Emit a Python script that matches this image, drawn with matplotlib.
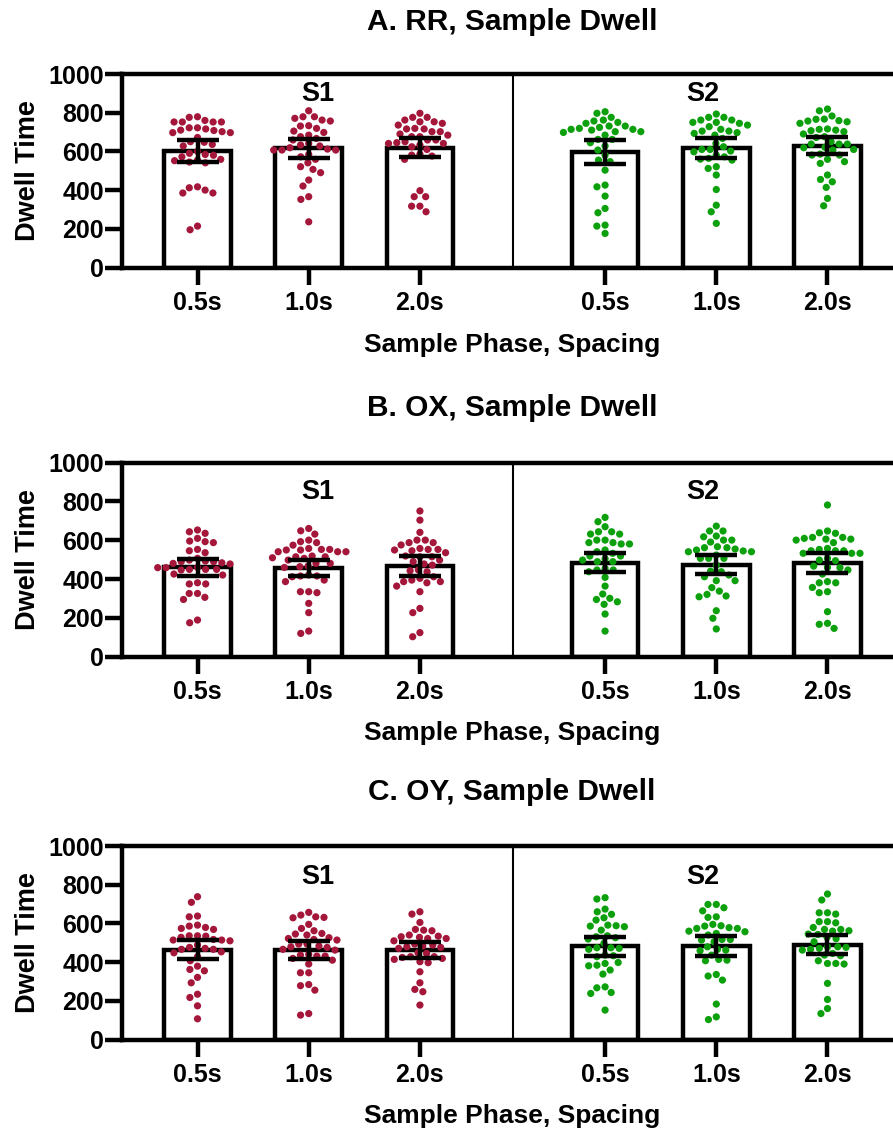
import numpy as np
import matplotlib
matplotlib.use("Agg")
import matplotlib.pyplot as plt

plt.rcParams['font.family'] = ['Liberation Sans', 'DejaVu Sans']
plt.rcParams['font.weight'] = 'bold'

# ---------------- data ----------------
panel_titles = ["A. RR, Sample Dwell", "B. OX, Sample Dwell", "C. OY, Sample Dwell"]
tick_labels = ["0.5s", "1.0s", "2.0s", "0.5s", "1.0s", "2.0s"]
group_labels = ["S1", "S2"]

A_S1_05 = [779, 776, 760, 752, 752, 752, 752, 722, 722, 716, 710, 708, 702, 697, 697, 672, 650, 647, 636, 628, 600, 590, 584, 580, 572, 559, 555, 552, 545, 541, 417, 412, 400, 385, 385, 214, 195]
A_S1_10 = [810, 779, 779, 771, 762, 757, 733, 731, 719, 705, 698, 684, 676, 667, 659, 641, 633, 628, 619, 612, 607, 607, 607, 584, 572, 559, 541, 521, 507, 490, 452, 421, 366, 352, 236]
A_S1_20 = [797, 776, 776, 762, 753, 753, 745, 736, 719, 716, 716, 702, 702, 690, 684, 676, 676, 659, 659, 650, 645, 641, 641, 633, 624, 610, 586, 581, 576, 559, 397, 366, 366, 317, 317, 288]
A_S2_05 = [805, 797, 776, 762, 757, 750, 745, 731, 731, 724, 719, 714, 714, 710, 702, 702, 698, 684, 662, 662, 645, 628, 607, 581, 555, 547, 503, 426, 417, 369, 305, 283, 219, 214, 176]
A_S2_10 = [793, 776, 776, 762, 762, 750, 750, 745, 736, 728, 714, 705, 705, 697, 693, 684, 667, 641, 624, 610, 610, 602, 598, 581, 572, 564, 560, 555, 521, 512, 478, 403, 322, 288, 228]
A_S2_20 = [819, 810, 783, 767, 766, 759, 757, 753, 745, 716, 714, 710, 707, 702, 690, 676, 672, 650, 638, 638, 638, 621, 619, 610, 607, 586, 581, 581, 559, 547, 538, 478, 455, 443, 414, 357, 319]

B_S1_05 = [653, 644, 636, 610, 596, 593, 588, 553, 546, 536, 507, 498, 493, 490, 490, 484, 481, 478, 460, 459, 459, 450, 450, 450, 447, 426, 421, 381, 375, 375, 326, 326, 306, 295, 189, 175]
B_S1_10 = [661, 649, 632, 601, 593, 588, 575, 558, 553, 553, 550, 550, 541, 541, 541, 519, 515, 515, 510, 507, 498, 481, 481, 467, 464, 460, 421, 416, 416, 412, 395, 387, 335, 335, 330, 275, 227, 132, 120]
B_S1_20 = [751, 704, 641, 601, 601, 588, 588, 576, 558, 553, 553, 550, 546, 536, 519, 515, 515, 498, 490, 478, 472, 447, 443, 438, 412, 404, 395, 387, 387, 381, 364, 335, 249, 227, 124, 103]
B_S2_05 = [718, 696, 670, 644, 644, 632, 632, 601, 601, 588, 588, 581, 581, 550, 541, 533, 519, 519, 505, 498, 490, 490, 455, 447, 447, 438, 409, 364, 323, 301, 295, 283, 270, 220, 132]
B_S2_10 = [673, 648, 648, 622, 618, 601, 601, 591, 567, 562, 562, 555, 550, 545, 541, 541, 524, 507, 507, 507, 472, 441, 438, 421, 412, 392, 392, 356, 338, 321, 313, 309, 237, 198, 143]
B_S2_20 = [782, 648, 639, 636, 615, 615, 610, 606, 606, 601, 588, 558, 553, 546, 546, 546, 533, 533, 533, 507, 498, 495, 467, 460, 459, 447, 426, 387, 381, 381, 357, 335, 330, 232, 172, 167, 146]

C_S1_05 = [738, 709, 638, 634, 591, 586, 579, 574, 569, 536, 536, 534, 528, 517, 514, 514, 510, 488, 476, 471, 466, 466, 453, 448, 428, 407, 379, 362, 355, 321, 293, 234, 217, 174, 107]
C_S1_10 = [657, 643, 634, 631, 629, 595, 574, 562, 548, 545, 540, 526, 522, 517, 514, 493, 493, 483, 479, 476, 466, 462, 440, 436, 431, 431, 419, 410, 390, 345, 345, 284, 278, 255, 134, 126]
C_S1_20 = [660, 648, 605, 569, 565, 562, 540, 534, 531, 528, 522, 522, 510, 493, 488, 483, 479, 476, 471, 448, 445, 428, 428, 424, 419, 414, 402, 397, 350, 293, 259, 247, 178]
C_S2_05 = [733, 726, 674, 660, 647, 629, 617, 591, 588, 586, 583, 565, 536, 531, 526, 519, 497, 474, 474, 471, 466, 436, 433, 428, 398, 393, 384, 381, 359, 338, 272, 267, 243, 238, 152]
C_S2_10 = [698, 698, 681, 665, 634, 631, 595, 588, 586, 578, 574, 574, 560, 557, 548, 540, 517, 517, 514, 505, 479, 466, 462, 459, 436, 414, 410, 407, 336, 328, 307, 183, 117, 103]
C_S2_20 = [752, 721, 655, 655, 648, 609, 609, 603, 579, 569, 569, 562, 560, 545, 543, 528, 521, 505, 479, 479, 476, 471, 466, 462, 445, 436, 433, 407, 393, 393, 390, 290, 207, 160, 134]

A_means = [603, 615, 620, 598, 618, 630]
A_err = [57, 50, 50, 63, 51, 45]
B_means = [460, 458, 467, 485, 475, 483]
B_err = [42, 43, 50, 50, 47, 52]
C_means = [465, 462, 462, 481, 484, 490]
C_err = [49, 45, 41, 50, 51, 49]

panel_points = [
    [A_S1_05, A_S1_10, A_S1_20, A_S2_05, A_S2_10, A_S2_20],
    [B_S1_05, B_S1_10, B_S1_20, B_S2_05, B_S2_10, B_S2_20],
    [C_S1_05, C_S1_10, C_S1_20, C_S2_05, C_S2_10, C_S2_20],
]
panel_means = [A_means, B_means, C_means]
panel_errs = [A_err, B_err, C_err]

# ---------------- layout / style ----------------
W, H = 893, 1131
RED = "#A4173B"
GREEN = "#0CA00C"
colors = [RED, RED, RED, GREEN, GREEN, GREEN]
xpos = np.array([0, 1, 2, 3.665, 4.665, 5.665])
divider = 2.835
xlim = (-0.679, 6.254)
# (top px, bottom px) of each axes
ax_px = [(74, 267.5), (462.7, 656.7), (846, 1039.5)]
title_y = [22, 408, 792]
xlabel_y = [345, 733, 1116]
group_label_y = [895, 850, 842]
left_px = 122


def swarm_offsets(vals, ppx, ppy, dmin):
    vals = np.asarray(vals, float)
    order = np.argsort(-vals)
    placed = []
    off = np.zeros(len(vals))
    for i in order:
        y = vals[i] * ppy
        cands = [0.0]
        near = [(px, py) for (px, py) in placed if abs(py - y) < dmin]
        for px, py in near:
            dx = np.sqrt(dmin ** 2 - (py - y) ** 2)
            cands += [px + dx, px - dx]
        cands = sorted(cands, key=lambda c: (abs(c), c))
        for c in cands:
            if all((c - px) ** 2 + (y - py) ** 2 >= dmin ** 2 - 1e-6 for px, py in near):
                off[i] = c
                placed.append((c, y))
                break
    return off / ppx


fig = plt.figure(figsize=(W / 100, H / 100), dpi=100)

for p in range(3):
    top, bot = ax_px[p]
    ax = fig.add_axes([left_px / W, 1 - bot / H, (W - left_px) / W, (bot - top) / H])
    ax.set_xlim(*xlim)
    ax.set_ylim(0, 1000)
    fig.canvas.draw()
    ppx = (ax.transData.transform((1, 0)) - ax.transData.transform((0, 0)))[0]
    ppy = (ax.transData.transform((0, 1)) - ax.transData.transform((0, 0)))[1]

    ax.bar(xpos, panel_means[p], width=0.6, color="white", edgecolor="black",
           linewidth=3.2, zorder=1)
    for k in range(6):
        v = panel_points[p][k]
        off = swarm_offsets(v, ppx, ppy, 8.3)
        ax.scatter(xpos[k] + off, v, s=27, color=colors[k], edgecolors="none",
                   zorder=2, clip_on=False)
    ax.errorbar(xpos, panel_means[p], yerr=panel_errs[p], fmt="none",
                ecolor="black", elinewidth=3.2, capsize=15, capthick=3.2, zorder=3)
    ax.axvline(divider, color="black", linewidth=1.5, zorder=4)

    for s in ["top", "left", "bottom"]:
        ax.spines[s].set_linewidth(3.2)
    ax.spines["right"].set_visible(False)
    ax.set_yticks([0, 200, 400, 600, 800, 1000])
    ax.set_xticks(xpos)
    ax.set_xticklabels(tick_labels)
    ax.tick_params(axis="both", width=3.2, length=12, labelsize=18)
    ax.tick_params(axis="y", pad=1)
    ax.tick_params(axis="x", pad=5)
    for lab in ax.get_xticklabels() + ax.get_yticklabels():
        lab.set_fontweight("bold")

    ax.text(np.mean([xlim[0], divider]), group_label_y[p], group_labels[0],
            ha="center", va="center", fontsize=19.5, fontweight="bold")
    ax.text(np.mean([divider, xlim[1]]), group_label_y[p], group_labels[1],
            ha="center", va="center", fontsize=19.5, fontweight="bold")

    fig.text(512 / W, 1 - title_y[p] / H, panel_titles[p], ha="center", va="center",
             fontsize=21.5, fontweight="bold")
    fig.text(512 / W, 1 - xlabel_y[p] / H, "Sample Phase, Spacing", ha="center",
             va="center", fontsize=19, fontweight="bold")
    fig.text(28 / W, 1 - (top + bot) / 2 / H, "Dwell Time", ha="center", va="center",
             rotation=90, fontsize=19.5, fontweight="bold")

fig.savefig("out.png", dpi=100)
